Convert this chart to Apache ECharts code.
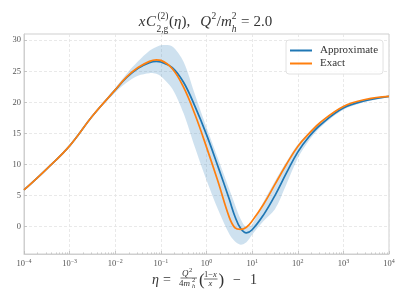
<!DOCTYPE html>
<html>
<head>
<meta charset="utf-8">
<script src="https://cdn.jsdelivr.net/npm/echarts@6/dist/echarts.min.js"></script>
<style>
html,body{margin:0;padding:0;background:#fff;}
#chart{width:407px;height:305px;}
</style>
</head>
<body>
<div id="chart"></div>
<script>
// eta grid (x values)
var etaGrid = [1e-4, 3.16e-4, 1e-3, 3.16e-3, 1e-2, 1.78e-2, 3.16e-2, 5.62e-2, 7.94e-2, 0.1, 0.178, 0.316, 0.562, 1, 1.78, 3.16, 4.22, 5.62, 7.5, 10, 17.8, 31.6, 56.2, 100, 178, 316, 1000, 3160, 10000];
// Approximate (blue)
var approxVals = [5.9, 9.3, 13.0, 17.8, 22.0, 24.0, 25.5, 26.4, 26.6, 26.5, 25.6, 23.2, 19.3, 14.8, 9.7, 4.4, 1.6, -0.3, -1.0, -0.5, 1.9, 5.0, 8.6, 12.0, 14.5, 16.4, 19.1, 20.3, 20.95];
// Exact (orange)
var exactVals = [5.9, 9.3, 13.0, 17.8, 22.0, 24.1, 25.6, 26.6, 26.85, 26.75, 25.4, 22.4, 18.0, 12.8, 7.3, 1.5, -0.2, -0.45, -0.1, 0.9, 3.6, 6.8, 10.0, 12.9, 15.0, 16.8, 19.35, 20.5, 20.95];
// Uncertainty band of the approximation
var bandLower = [5.9, 9.3, 13.0, 17.7, 21.6, 23.2, 24.3, 24.7, 24.6, 24.2, 22.2, 18.2, 12.7, 7.5, 2.8, -1.2, -2.4, -2.9, -2.5, -1.3, 0.9, 2.8, 6.8, 11.0, 13.9, 16.0, 18.8, 20.1, 20.85];
var bandUpper = [5.9, 9.3, 13.0, 17.9, 22.3, 24.6, 26.6, 28.3, 28.9, 29.2, 29.0, 26.5, 21.2, 16.0, 11.0, 6.0, 3.5, 1.2, -0.1, 0.4, 4.0, 7.3, 10.4, 13.2, 15.2, 16.9, 19.4, 20.5, 21.05];
// ticks
var yTicks = [0, 5, 10, 15, 20, 25, 30];

var minorTicks = [];
for (var d = -4; d < 4; d++) {
  for (var k = 2; k <= 9; k++) minorTicks.push(d + Math.log10(k));
}

function pairs(xs, ys) { return xs.map(function (x, i) { return [x, ys[i]]; }); }
var bandData = etaGrid.map(function (x, i) { return [x, bandLower[i], bandUpper[i]]; });

var serif = 'Liberation Serif';
var grayTxt = '#555';
var spine = '#cfcfcf';

var chart = echarts.init(document.getElementById('chart'), null, { renderer: 'canvas' });

var mctx = document.createElement('canvas').getContext('2d');
function fontStr(size, italic) { return (italic ? 'italic ' : '') + size + 'px "' + serif + '"'; }
function measure(t, size, italic) { mctx.font = fontStr(size, italic); return mctx.measureText(t).width; }

function T(text, x, y, size, italic, extra) {
  var o = {
    type: 'text', x: x, y: y, silent: true,
    style: { text: text, fontFamily: serif, fontSize: size, fontStyle: italic ? 'italic' : 'normal', fill: '#333', align: 'left', verticalAlign: 'middle' }
  };
  if (extra) for (var key in extra) o.style[key] = extra[key];
  return o;
}

// Sequential math-like layout of title tokens, centred on cx
function layoutLine(tokens, cx, cy, size, supSize, supDy, subDy) {
  var items = [], x = 0;
  tokens.forEach(function (tk) {
    if (tk.space) { x += tk.space; return; }
    if (tk.t) {
      items.push({ t: tk.t, x: x, dy: 0, size: size, it: tk.it });
      x += measure(tk.t, size, tk.it);
      return;
    }
    var w = 0;
    if (tk.sup) { items.push({ t: tk.sup, x: x + (tk.supShift || 0), dy: supDy, size: supSize, it: tk.supIt }); w = Math.max(w, measure(tk.sup, supSize, tk.supIt) + (tk.supShift || 0)); }
    if (tk.sub) { items.push({ t: tk.sub, x: x, dy: subDy, size: supSize, it: tk.subIt }); w = Math.max(w, measure(tk.sub, supSize, tk.subIt)); }
    x += w + 0.5;
  });
  var x0 = cx - x / 2;
  return items.map(function (it) { return T(it.t, x0 + it.x, cy + it.dy, it.size, it.it); });
}

var titleTokens = [
  { t: 'x', it: true }, { space: 0.5 }, { t: 'C', it: true }, { space: 0.5 },
  { sup: '(2)', sub: '2,g', supShift: 1 },
  { t: '(' }, { t: 'η', it: true }, { t: ')' }, { t: ',' }, { space: 10 },
  { t: 'Q', it: true }, { sup: '2', supShift: 0.5 }, { t: '/' }, { t: 'm', it: true },
  { sup: '2', sub: 'h', subIt: true }, { space: 4 }, { t: '=' }, { space: 4 }, { t: '2.0' }
];

var graphics = layoutLine(titleTokens, 205.5, 22.5, 15, 9.5, -6.5, 6.5).concat([
  // x-axis label: eta = Q^2/(4 m_h^2) ((1-x)/x) - 1
  T('η', 152, 280, 14, true),
  T('=', 163, 280, 14, false),
  T('Q', 182, 273.5, 9, true),
  T('2', 189, 270.5, 6.5, false),
  { type: 'line', silent: true, shape: { x1: 180.5, y1: 278, x2: 197, y2: 278 }, style: { stroke: '#333', lineWidth: 0.7 } },
  T('4', 179, 283.5, 9, false),
  T('m', 183.5, 283.5, 9, true),
  T('2', 192, 280.5, 6.5, false),
  T('h', 192, 286.5, 6.5, true),
  T('(', 199, 280.5, 17, false),
  T('1−', 204, 275, 8.5, false),
  T('x', 213, 275, 8.5, true),
  { type: 'line', silent: true, shape: { x1: 204, y1: 279, x2: 217.5, y2: 279 }, style: { stroke: '#333', lineWidth: 0.7 } },
  T('x', 208.5, 284, 8.5, true),
  T(')', 218.5, 280.5, 17, false),
  T('−', 233, 280, 14, false),
  T('1', 250, 280, 14, false)
]);

var option = {
  animation: false,
  backgroundColor: '#fff',
  grid: { left: 24, right: 18, top: 34, bottom: 51, show: true, borderColor: spine, borderWidth: 1, backgroundColor: 'transparent' },
  legend: {
    left: 286, top: 40, orient: 'vertical',
    data: ['Approximate', 'Exact'],
    icon: 'rect', itemWidth: 22, itemHeight: 2, itemGap: 2,
    padding: [5, 5, 5, 4],
    backgroundColor: 'rgba(255,255,255,0.85)', borderColor: '#e2e2e2', borderWidth: 1, borderRadius: 3,
    textStyle: { fontFamily: serif, fontSize: 11, color: '#333', padding: [0, 0, 0, 3] }
  },
  graphic: graphics,
  xAxis: [
    {
      type: 'log', logBase: 10, min: 1e-4, max: 1e4, interval: 1,
      axisLine: { show: true, onZero: false, lineStyle: { color: spine, width: 1 } },
      axisTick: { show: true, inside: true, length: 3, lineStyle: { color: '#bbb', width: 0.8 } },
      axisLabel: {
        show: true, margin: 4,
        formatter: function (v) {
          var e = Math.round(Math.log10(v));
          return '{b|10}{s|' + (e < 0 ? '−' + (-e) : e) + '}';
        },
        rich: {
          b: { fontFamily: serif, fontSize: 8.5, color: grayTxt },
          s: { fontFamily: serif, fontSize: 6, color: grayTxt, padding: [0, 0, 5, 0] }
        }
      },
      splitLine: { show: true, lineStyle: { color: '#e3e3e3', type: [3, 2], width: 0.8 } }
    },
    {
      type: 'value', min: -4, max: 4, position: 'bottom',
      axisLine: { show: false, onZero: false },
      axisLabel: { show: false },
      splitLine: { show: false },
      axisTick: { show: true, inside: true, length: 1.6, customValues: minorTicks, lineStyle: { color: '#bbb', width: 0.7 } }
    }
  ],
  yAxis: {
    type: 'value', min: -4.4, max: 31,
    axisLine: { show: true, onZero: false, lineStyle: { color: spine, width: 1 } },
    axisTick: { show: true, inside: true, length: 3, customValues: yTicks, lineStyle: { color: '#bbb', width: 0.8 } },
    axisLabel: { show: true, customValues: yTicks, margin: 3, fontFamily: serif, fontSize: 8.5, color: grayTxt },
    splitLine: { show: true, lineStyle: { color: '#e3e3e3', type: [3, 2], width: 0.8 } }
  },
  series: [
    {
      name: 'band', type: 'custom', xAxisIndex: 0, yAxisIndex: 0, clip: true, silent: true,
      data: bandData,
      encode: { x: 0, y: [1, 2] },
      renderItem: function (params, api) {
        if (params.dataIndex !== 0) return null;
        var pts = [];
        for (var i = 0; i < bandData.length; i++) pts.push(api.coord([bandData[i][0], bandData[i][2]]));
        for (var j = bandData.length - 1; j >= 0; j--) pts.push(api.coord([bandData[j][0], bandData[j][1]]));
        return { type: 'polygon', shape: { points: pts, smooth: 0.3 }, style: { fill: 'rgba(31,119,180,0.22)' } };
      },
      z: 1
    },
    {
      name: 'Approximate', type: 'line', xAxisIndex: 0, data: pairs(etaGrid, approxVals),
      smooth: 0.4, showSymbol: false, symbol: 'none',
      lineStyle: { color: '#1f77b4', width: 1.7 }, itemStyle: { color: '#1f77b4' }, z: 3
    },
    {
      name: 'Exact', type: 'line', xAxisIndex: 0, data: pairs(etaGrid, exactVals),
      smooth: 0.4, showSymbol: false, symbol: 'none',
      lineStyle: { color: '#ff7f0e', width: 1.7 }, itemStyle: { color: '#ff7f0e' }, z: 4
    }
  ]
};
chart.setOption(option);
</script>
</body>
</html>
